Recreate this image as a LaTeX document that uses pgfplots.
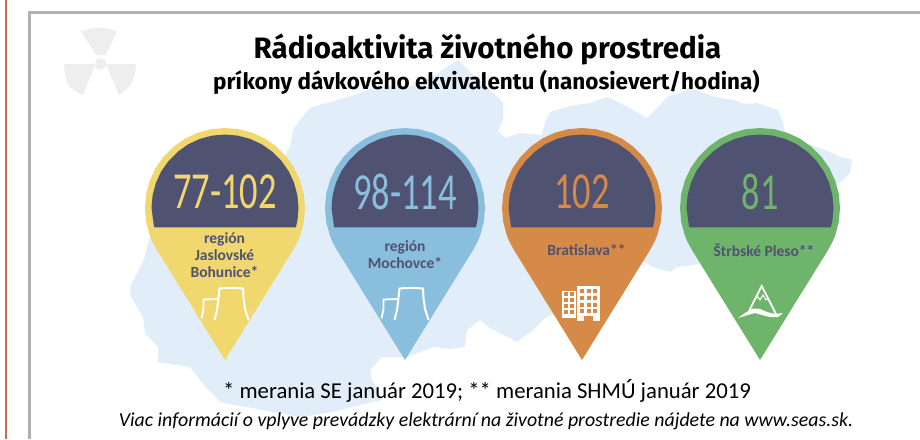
\documentclass[border=0pt]{standalone}
\usepackage{pgfplots}
\usepackage{pgfplotstable}
\pgfplotsset{compat=1.18}
\usepackage{fontspec}
\setmainfont{Carlito}
\newfontfamily\titlefont{Fira Sans}
\newfontfamily\numfont[FakeStretch=0.70]{Carlito}
\definecolor{mapc}{HTML}{E1EDF9}
\definecolor{dark}{HTML}{505272}
\definecolor{yel}{HTML}{F0D86E}
\definecolor{blu}{HTML}{89BFDC}
\definecolor{ora}{HTML}{D58A48}
\definecolor{gre}{HTML}{6FB46B}
\definecolor{frameg}{HTML}{B0B0B0}
\definecolor{edge}{HTML}{D2694A}
\definecolor{rad}{HTML}{EEEEEE}
\pgfplotstableread{
x y
68 42.1
72.5 33.8
75.2 27.4
78.8 13.9
80 0
78.8 -13.9
75.2 -27.4
69.3 -40
61.3 -51.4
51.4 -61.3
40 -69.3
27.4 -75.2
13.9 -78.8
0 -80
-13.9 -78.8
-27.4 -75.2
-40 -69.3
-51.4 -61.3
-61.3 -51.4
-69.3 -40
-75.2 -27.4
-78.8 -13.9
-80 0
-78.8 13.9
-75.2 27.4
-72.5 33.8
-68 42.1
0 152
}\pinouter
\pgfplotstableread{
x y
70.9 19.3
72.4 12.8
73.5 0
72.4 -12.8
69.1 -25.1
63.7 -36.8
56.3 -47.2
47.2 -56.3
36.8 -63.7
25.1 -69.1
12.8 -72.4
0 -73.5
-12.8 -72.4
-25.1 -69.1
-36.8 -63.7
-47.2 -56.3
-56.3 -47.2
-63.7 -36.8
-69.1 -25.1
-72.4 -12.8
-73.5 0
-70.9 19.3
}\pininner
\pgfplotstableread{
x y
130 287
131 297
143 317
145 333
158 347
158 362
190 367
200 380
207 388
220 402
240 406
263 410
300 417
333 412
360 405
382 400
378 390
372 380
370 370
382 357
407 357
433 347
450 349
465 347
467 330
480 320
490 328
500 333
517 342
533 330
545 318
560 310
600 290
640 262
645 262
653 267
670 272
677 267
695 265
760 240
837 185
850 173
852 160
840 157
830 152
820 148
800 142
785 132
782 120
778 110
757 103
745 104
733 100
715 97
690 88
680 93
667 97
660 105
647 118
633 110
620 103
607 97
590 103
570 106
550 112
545 122
542 135
520 133
505 138
498 131
503 120
503 103
485 85
470 72
458 60
447 67
430 78
407 88
380 85
355 95
327 103
310 108
300 120
293 130
290 147
270 180
150 237
143 262
}\slovakia
\newcommand{\pin}[3]{%
 \addplot[fill=#2,draw=none,forget plot] table[x expr=\thisrow{x}+#1,y expr=\thisrow{y}+208]{\pinouter} -- cycle;
 \addplot[fill=dark,draw=none,forget plot] table[x expr=\thisrow{x}+#1,y expr=\thisrow{y}+208]{\pininner} -- cycle;
 \node[font=\numfont\fontsize{52}{52}\selectfont,text=#2,anchor=center] at (axis cs:#1,192) {#3};
}
\newcommand{\tower}[1]{%
 \addplot[white,line width=2pt,forget plot] coordinates {(#1-10.5,320) (#1-8,310) (#1-6.5,298) (#1-5.5,288.5) (#1+6,287.8) (#1+18,288.5) (#1+18.5,298) (#1+20,309) (#1+23.5,320)};
 \addplot[white,line width=1.8pt,forget plot] coordinates {(#1-8,299) (#1-21.5,299.5) (#1-21.5,309) (#1-23.5,318.5)};
}
\begin{document}
\begin{tikzpicture}
\begin{axis}[scale only axis,width=920pt,height=439pt,xmin=0,xmax=920,ymin=0,ymax=439,y dir=reverse,hide axis,clip=true]
\addplot[white,fill=white,forget plot] coordinates {(0,0) (920,0) (920,439) (0,439)} -- cycle;
% frames
\addplot[edge,line width=2.8pt,forget plot] coordinates {(6,0) (6,439)};
\addplot[frameg,line width=2.4pt,forget plot] coordinates {(29.6,439) (29.6,12.3) (920,12.3)};
% map
\addplot[fill=mapc,draw=none,forget plot] table[x=x,y=y]{\slovakia} -- cycle;
% radiation symbol
\addplot[fill=rad,draw=none,forget plot] coordinates {(81,31.5) (90,28.5) (99,27.5) (108,28.5) (117,31.5) (106,55) (96,55)} -- cycle;
\addplot[fill=rad,draw=none,forget plot] coordinates {(64,64) (95.5,64) (83,95) (75,91) (68,85) (65,75)} -- cycle;
\addplot[fill=rad,draw=none,forget plot] coordinates {(136,64) (106,64) (119,95) (126,90) (132,83) (135,74)} -- cycle;
\addplot[only marks,mark=*,mark size=5.5pt,rad,forget plot] coordinates {(100.7,64)};
% pins
\pin{225}{yel}{77-102}
\pin{405}{blu}{98-114}
\pin{582}{ora}{102}
\pin{760}{gre}{81}
% pin labels
\node[font=\bfseries\fontsize{15.5}{17}\selectfont,text=dark,align=center,anchor=center] at (axis cs:224.5,255) {región\\Jaslovské\\Bohunice*};
\node[font=\bfseries\fontsize{15.5}{17}\selectfont,text=dark,align=center,anchor=center] at (axis cs:405,255) {región\\Mochovce*};
\node[font=\bfseries\fontsize{15.5}{17}\selectfont,text=dark,anchor=center] at (axis cs:586.5,250) {Bratislava**};
\node[font=\bfseries\fontsize{15.5}{17}\selectfont,text=dark,anchor=center] at (axis cs:764,250) {Štrbské Pleso**};
% icons
\tower{225}
\tower{405}
\addplot[fill=white,draw=none,forget plot] coordinates {(562,291) (576,291) (576,318) (562,318)} -- cycle;
\addplot[fill=white,draw=none,forget plot] coordinates {(577,286) (600,286) (600,321) (577,321)} -- cycle;
\addplot[only marks,mark=square*,mark size=1.5pt,ora,forget plot] coordinates {(566,293.5) (571.7,293.5) (566,299.5) (571.7,299.5) (566,305.5) (571.7,305.5) (566,311.7) (571.7,311.7) (581.7,291) (588.3,291) (595,291) (581.7,297.7) (588.3,297.7) (595,297.7) (581.7,304.3) (588.3,304.3) (595,304.3) (581.7,311) (588.3,311) (595,311)};
\addplot[fill=ora,draw=none,forget plot] coordinates {(584,316) (593,316) (593,321) (584,321)} -- cycle;
\addplot[white,line width=1.8pt,forget plot] coordinates {(749,311) (761.7,286) (777,316)};
\addplot[fill=white,draw=none,forget plot] coordinates {(738,318) (745,313) (753,308.5) (760,309) (767,312) (775,314) (783,313) (778,317) (770,317) (762,315) (755,313) (748,315)} -- cycle;
\addplot[white,line width=1pt,forget plot] coordinates {(755,299) (758,297) (760,300) (763,295) (766,300) (769,298)};
% texts
\node[font=\titlefont\bfseries\fontsize{29.5}{29.5}\selectfont,anchor=center] at (axis cs:487.5,49.5) {Rádioaktivita životného prostredia};
\node[font=\titlefont\bfseries\fontsize{22.5}{22.5}\selectfont,anchor=center] at (axis cs:486.5,82) {príkony dávkového ekvivalentu (nanosievert/hodina)};
\node[font=\fontsize{22.7}{22.7}\selectfont,anchor=center] at (axis cs:487,391) {* merania SE január 2019; ** merania SHMÚ január 2019};
\node[font=\itshape\fontsize{19.85}{19.85}\selectfont,anchor=center] at (axis cs:486,421) {Viac informácií o vplyve prevádzky elektrární na životné prostredie nájdete na www.seas.sk.};
\end{axis}
\end{tikzpicture}
\end{document}
